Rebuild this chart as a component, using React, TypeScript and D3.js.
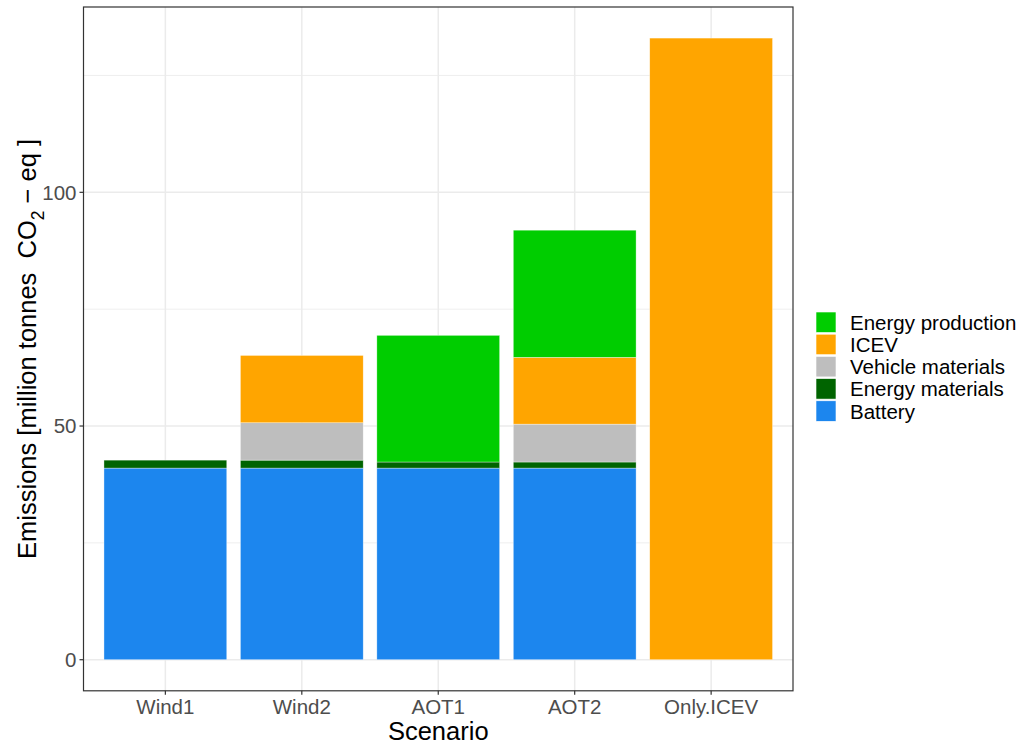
import React from "react";
import * as d3 from "d3";

// Scenarios and emission components (million tonnes CO2-eq)
const scenarios = ["Wind1", "Wind2", "AOT1", "AOT2", "Only.ICEV"];
const components = ["Battery", "Energy materials", "Vehicle materials", "ICEV", "Energy production"];
const battery = [41, 41, 41, 41, 0];
const energyMaterials = [1.7, 1.7, 1.3, 1.3, 0];
const vehicleMaterials = [0, 8.0, 0, 8.1, 0];
const icev = [0, 14.4, 0, 14.3, 133];
const energyProduction = [0, 0, 27.1, 27.2, 0];
const yTicks = [0, 50, 100];
const yMinorTicks = [25, 75, 125];
const colors: Record<string, string> = {
  "Battery": "#1C86EE",
  "Energy materials": "#006400",
  "Vehicle materials": "#BEBEBE",
  "ICEV": "#FFA500",
  "Energy production": "#00CD00",
};
const legendOrder = ["Energy production", "ICEV", "Vehicle materials", "Energy materials", "Battery"];

const W = 1022;
const H = 744;
const panel = { left: 83.5, right: 793, top: 7, bottom: 690.8 };
const FONT = "'Liberation Sans', Arial, sans-serif";

export default function App() {
  const rows = scenarios.map((s, i) => ({
    scenario: s,
    "Battery": battery[i],
    "Energy materials": energyMaterials[i],
    "Vehicle materials": vehicleMaterials[i],
    "ICEV": icev[i],
    "Energy production": energyProduction[i],
  }));
  const stacked = d3.stack<any>().keys(components)(rows);
  const maxTotal = d3.max(rows, (r: any) => components.reduce((a, k) => a + r[k], 0)) as number;
  const pad = maxTotal * 0.05;

  const y = d3.scaleLinear().domain([-pad, maxTotal + pad]).range([panel.bottom, panel.top]);
  const x = d3
    .scaleBand<string>()
    .domain(scenarios)
    .range([panel.left, panel.right])
    .paddingInner(0.1)
    .paddingOuter(0.15);
  const bw = x.bandwidth();
  const xc = (s: string) => (x(s) as number) + bw / 2;

  return (
    <svg width={W} height={H} style={{ display: "block", position: "absolute", left: 0, top: 0 }} fontFamily={FONT}>
      <rect x={0} y={0} width={W} height={H} fill="white" />
      {/* grid */}
      {yMinorTicks.map((t) => (
        <line key={"mn" + t} x1={panel.left} x2={panel.right} y1={y(t)} y2={y(t)} stroke="#EBEBEB" strokeWidth={0.8} />
      ))}
      {yTicks.map((t) => (
        <line key={"mj" + t} x1={panel.left} x2={panel.right} y1={y(t)} y2={y(t)} stroke="#EBEBEB" strokeWidth={1.5} />
      ))}
      {scenarios.map((s) => (
        <line key={"vx" + s} x1={xc(s)} x2={xc(s)} y1={panel.top} y2={panel.bottom} stroke="#EBEBEB" strokeWidth={1.5} />
      ))}
      {/* stacked bars */}
      {stacked.map((layer) => (
        <g key={layer.key} fill={colors[layer.key]}>
          {layer.map((d, i) =>
            d[1] - d[0] > 0 ? (
              <rect
                key={i}
                x={x(scenarios[i])}
                width={bw}
                y={y(d[1])}
                height={y(d[0]) - y(d[1])}
                stroke="rgba(255,255,255,0.6)"
                strokeWidth={0.6}
              />
            ) : null
          )}
        </g>
      ))}
      {/* panel border */}
      <rect x={panel.left} y={panel.top} width={panel.right - panel.left} height={panel.bottom - panel.top} fill="none" stroke="#333333" strokeWidth={1.2} />
      {/* y axis */}
      {yTicks.map((t) => (
        <g key={"yt" + t}>
          <line x1={panel.left - 4} x2={panel.left} y1={y(t)} y2={y(t)} stroke="#333333" strokeWidth={1.2} />
          <text x={panel.left - 7} y={y(t)} dy="0.36em" textAnchor="end" fontSize={20.5} fill="#4D4D4D">
            {t}
          </text>
        </g>
      ))}
      {/* x axis */}
      {scenarios.map((s) => (
        <g key={"xt" + s}>
          <line x1={xc(s)} x2={xc(s)} y1={panel.bottom} y2={panel.bottom + 4} stroke="#333333" strokeWidth={1.2} />
          <text x={xc(s)} y={panel.bottom + 16} dy="0.36em" textAnchor="middle" fontSize={20.5} fill="#4D4D4D">
            {s}
          </text>
        </g>
      ))}
      <text x={(panel.left + panel.right) / 2} y={731} dy="0.36em" textAnchor="middle" fontSize={25.5} fill="black">
        Scenario
      </text>
      <text
        transform={`translate(27,${(panel.top + panel.bottom) / 2}) rotate(-90)`}
        textAnchor="middle"
        dy="0.36em"
        fontSize={25.5}
        fill="black"
      >
        Emissions [million tonnes{"\u00A0\u00A0"}CO
        <tspan fontSize={17.5} dy="0.45em">2</tspan>
        <tspan dy="-0.3em"> − eq ]</tspan>
      </text>
      {/* legend */}
      {legendOrder.map((k, i) => (
        <g key={"lg" + k} transform={`translate(816,${312 + i * 22.2})`}>
          <rect x={0} y={0} width={20} height={20.5} fill={colors[k]} stroke="white" strokeWidth={0.6} />
          <text x={34} y={10.5} dy="0.36em" fontSize={20.5} fill="black">
            {k}
          </text>
        </g>
      ))}
    </svg>
  );
}
